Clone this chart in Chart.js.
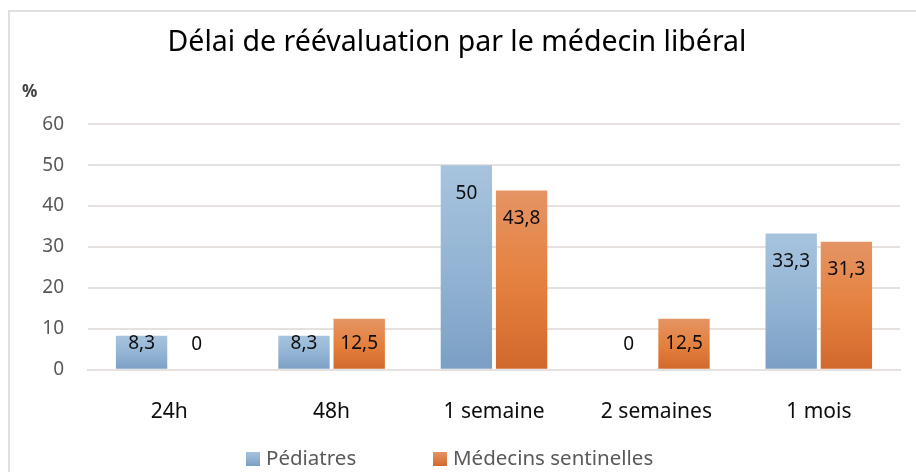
<!DOCTYPE html>
<html>
<head>
<meta charset="utf-8">
<script src="https://cdn.jsdelivr.net/npm/chart.js@4.4.1/dist/chart.umd.min.js"></script>
<style>
  html, body { margin: 0; padding: 0; background: #fff; }
  canvas { display: block; }
</style>
</head>
<body>
<canvas id="chart" width="916" height="472"></canvas>
<script>
// data
const categories = ['24h', '48h', '1 semaine', '2 semaines', '1 mois'];
const pediatres = [8.3, 8.3, 50, 0, 33.3];
const sentinelles = [0, 12.5, 43.8, 12.5, 31.3];
const seriesNames = ['Pédiatres', 'Médecins sentinelles'];
const yTicks = [0, 10, 20, 30, 40, 50, 60];

const FONT = "'Noto Sans', 'Open Sans', sans-serif";
const GRID = '#e6e1de';
const blueStops = ['#a7c4de', '#93b4d4', '#7b9fc5'];
const orangeStops = ['#e59465', '#e5813f', '#d2682c'];

// per-bar vertical gradient, light on top, dark at the base
function barGradient(stops) {
    return function(ctx) {
        const chart = ctx.chart;
        if (!chart.chartArea || ctx.type !== 'data') return stops[1];
        const y = chart.scales.y;
        const top = y.getPixelForValue(ctx.raw);
        const base = y.getPixelForValue(0);
        if (base - top < 1) return stops[1];
        const g = chart.ctx.createLinearGradient(0, top, 0, base);
        g.addColorStop(0, stops[0]);
        g.addColorStop(0.5, stops[1]);
        g.addColorStop(1, stops[2]);
        return g;
    };
}

// value labels inside the bars, near the top
const valueLabels = {
    id: 'valueLabels',
    afterDatasetsDraw(chart) {
        const ctx = chart.ctx;
        ctx.save();
        ctx.font = '19px ' + FONT;
        ctx.fillStyle = '#0d0d0d';
        ctx.textAlign = 'center';
        ctx.textBaseline = 'middle';
        chart.data.datasets.forEach((ds, i) => {
            chart.getDatasetMeta(i).data.forEach((bar, j) => {
                const y = Math.min(bar.y + 28, bar.base - 25);
                ctx.fillText(String(ds.data[j]).replace('.', ','), bar.x, y);
            });
        });
        ctx.restore();
    }
};

// frame, "%" label and bottom legend
const decorations = {
    id: 'decorations',
    beforeDraw(chart) {
        const ctx = chart.ctx;
        ctx.save();
        ctx.strokeStyle = '#e3dfdc';
        ctx.lineWidth = 2;
        ctx.strokeRect(9, 11, 1000, 1000);
        ctx.restore();
    },
    afterDraw(chart) {
        const ctx = chart.ctx;
        ctx.save();
        ctx.font = 'bold 17px ' + FONT;
        ctx.fillStyle = '#404040';
        ctx.textBaseline = 'middle';
        ctx.fillText('%', 22, 92);

        // legend
        const items = [
            { x: 246, stops: blueStops, text: seriesNames[0] },
            { x: 433, stops: orangeStops, text: seriesNames[1] }
        ];
        const cy = 459;
        ctx.font = '20.5px ' + FONT;
        items.forEach(it => {
            const g = ctx.createLinearGradient(0, cy - 7, 0, cy + 7);
            g.addColorStop(0, it.stops[0]);
            g.addColorStop(1, it.stops[2]);
            ctx.fillStyle = g;
            ctx.fillRect(it.x, cy - 7, 14, 14);
            ctx.fillStyle = '#595959';
            ctx.fillText(it.text, it.x + 20, cy);
        });
        ctx.restore();
    }
};

new Chart(document.getElementById('chart'), {
    type: 'bar',
    data: {
        labels: categories,
        datasets: [
            { label: seriesNames[0], data: pediatres, backgroundColor: barGradient(blueStops) },
            { label: seriesNames[1], data: sentinelles, backgroundColor: barGradient(orangeStops) }
        ]
    },
    options: {
        responsive: false,
        animation: false,
        layout: { padding: { left: 14, right: 16, top: 0, bottom: 25 } },
        datasets: { bar: { categoryPercentage: 0.68, barPercentage: 0.93 } },
        plugins: {
            legend: { display: false },
            tooltip: { enabled: false },
            title: {
                display: true,
                text: 'Délai de réévaluation par le médecin libéral',
                color: '#000',
                font: { family: FONT, size: 28.5, weight: 'normal' },
                padding: { top: 26, bottom: 64 }
            }
        },
        scales: {
            x: {
                grid: { display: false },
                border: { color: GRID, width: 2 },
                ticks: { color: '#0d0d0d', font: { family: FONT, size: 21 }, padding: 22 }
            },
            y: {
                min: 0,
                max: 60,
                afterFit: s => { s.width = 74; },
                afterBuildTicks: s => { s.ticks = yTicks.map(v => ({ value: v })); },
                grid: { color: GRID, lineWidth: 2, drawTicks: false },
                border: { display: false },
                ticks: { color: '#595959', font: { family: FONT, size: 19 }, padding: 24 }
            }
        }
    },
    plugins: [valueLabels, decorations]
});
</script>
</body>
</html>
